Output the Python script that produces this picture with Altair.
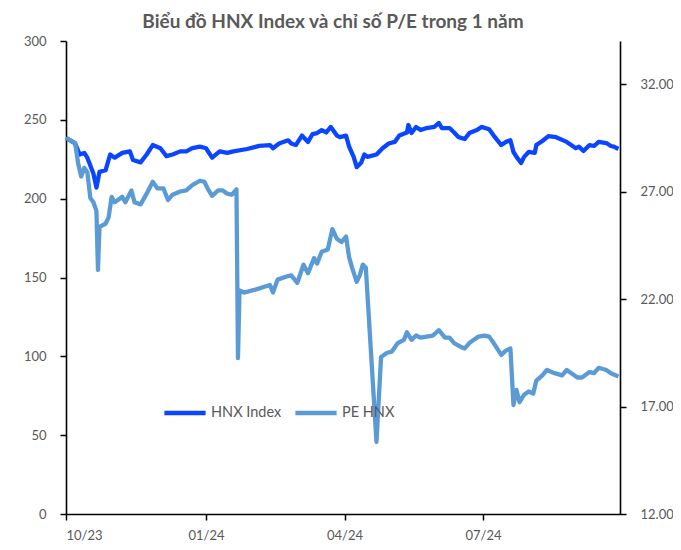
import altair as alt
import pandas as pd

# ---------------- data ----------------
hnx_dates = [
    "2023-10-01", "2023-10-07", "2023-10-10", "2023-10-13", "2023-10-15", "2023-10-19",
    "2023-10-21", "2023-10-23", "2023-10-27", "2023-10-30", "2023-11-02", "2023-11-07",
    "2023-11-12", "2023-11-14", "2023-11-19", "2023-11-23", "2023-11-27", "2023-12-02",
    "2023-12-06", "2023-12-10", "2023-12-15", "2023-12-19", "2023-12-23", "2023-12-28",
    "2024-01-01", "2024-01-05", "2024-01-10", "2024-01-15", "2024-01-19", "2024-01-28",
    "2024-02-05", "2024-02-12", "2024-02-14", "2024-02-18", "2024-02-24", "2024-02-26",
    "2024-02-29", "2024-03-04", "2024-03-08", "2024-03-11", "2024-03-14", "2024-03-17",
    "2024-03-20", "2024-03-23", "2024-03-27", "2024-03-29", "2024-04-02", "2024-04-04",
    "2024-04-07", "2024-04-09", "2024-04-12", "2024-04-14", "2024-04-16", "2024-04-22",
    "2024-04-26", "2024-04-30", "2024-05-04", "2024-05-07", "2024-05-12", "2024-05-13",
    "2024-05-15", "2024-05-18", "2024-05-21", "2024-05-25", "2024-05-30", "2024-06-02",
    "2024-06-04", "2024-06-09", "2024-06-12", "2024-06-15", "2024-06-19", "2024-06-22",
    "2024-06-27", "2024-06-30", "2024-07-05", "2024-07-08", "2024-07-13", "2024-07-16",
    "2024-07-19", "2024-07-21", "2024-07-23", "2024-07-26", "2024-07-28", "2024-07-31",
    "2024-08-04", "2024-08-05", "2024-08-09", "2024-08-13", "2024-08-18", "2024-08-25",
    "2024-08-31", "2024-09-02", "2024-09-05", "2024-09-09", "2024-09-12", "2024-09-15",
    "2024-09-20", "2024-09-23", "2024-09-25", "2024-09-28",
]
hnx_values = [
    238.5, 235, 228, 229, 226, 216,
    207, 217, 218, 228, 226, 229,
    230, 224.5, 223, 228, 234, 232,
    227, 228, 230, 230, 232, 233,
    232, 226, 230, 229, 230, 231.5,
    233.5, 234, 232, 235, 237, 235,
    234, 240, 236, 241, 241.6, 243.5,
    242, 245.5, 240, 239, 240, 233,
    226.5, 220, 223, 228, 226.5, 228,
    232, 235, 236, 240, 242, 246.7,
    241.6, 245.5, 243.5, 244.8, 245.5, 248,
    244.8, 244.8, 242, 239, 237.8, 241.6,
    243.5, 245.5, 244, 240, 234, 236,
    237, 229.6, 226.5, 222.6, 226.5, 229.6,
    229, 234, 236.6, 239.7, 239, 236,
    232, 233, 230.2, 234, 233.4, 236,
    235.3, 233.4, 233, 231.5,
]

pe_dates = [
    "2023-10-01", "2023-10-07", "2023-10-09", "2023-10-11", "2023-10-13", "2023-10-15",
    "2023-10-17", "2023-10-19", "2023-10-21", "2023-10-22", "2023-10-23", "2023-10-27",
    "2023-10-29", "2023-10-31", "2023-11-02", "2023-11-07", "2023-11-09", "2023-11-13",
    "2023-11-15", "2023-11-19", "2023-11-23", "2023-11-27", "2023-11-30", "2023-12-04",
    "2023-12-07", "2023-12-10", "2023-12-15", "2023-12-19", "2023-12-23", "2023-12-28",
    "2023-12-31", "2024-01-02", "2024-01-05", "2024-01-09", "2024-01-12", "2024-01-15",
    "2024-01-18", "2024-01-21", "2024-01-22", "2024-01-23", "2024-01-26", "2024-02-03",
    "2024-02-12", "2024-02-14", "2024-02-17", "2024-02-23", "2024-02-26", "2024-03-01",
    "2024-03-05", "2024-03-08", "2024-03-12", "2024-03-14", "2024-03-17", "2024-03-21",
    "2024-03-24", "2024-03-27", "2024-03-30", "2024-04-02", "2024-04-04", "2024-04-06",
    "2024-04-09", "2024-04-11", "2024-04-13", "2024-04-15", "2024-04-22", "2024-04-25",
    "2024-04-29", "2024-05-02", "2024-05-06", "2024-05-10", "2024-05-12", "2024-05-15",
    "2024-05-18", "2024-05-21", "2024-05-25", "2024-05-29", "2024-06-02", "2024-06-06",
    "2024-06-09", "2024-06-12", "2024-06-17", "2024-06-19", "2024-06-22", "2024-06-25",
    "2024-06-28", "2024-07-02", "2024-07-05", "2024-07-08", "2024-07-13", "2024-07-16",
    "2024-07-19", "2024-07-21", "2024-07-23", "2024-07-25", "2024-07-28", "2024-07-31",
    "2024-08-03", "2024-08-05", "2024-08-09", "2024-08-12", "2024-08-17", "2024-08-22",
    "2024-08-25", "2024-08-28", "2024-09-01", "2024-09-04", "2024-09-09", "2024-09-12",
    "2024-09-15", "2024-09-20", "2024-09-23", "2024-09-28",
]
pe_values = [
    29.5, 29.26, 28.3, 27.7, 28.1, 27.9,
    26.7, 26.5, 26.1, 23.35, 25.35, 25.5,
    25.8, 26.75, 26.5, 26.75, 26.5, 27.05,
    26.5, 26.4, 26.9, 27.45, 27.15, 27.15,
    26.6, 26.85, 27.0, 27.05, 27.3, 27.5,
    27.45, 27.15, 26.8, 27.05, 27.05, 26.9,
    26.85, 27.1, 19.25, 22.4, 22.3, 22.45,
    22.65, 22.3, 22.9, 23.05, 23.1, 22.75,
    23.6, 23.2, 23.9, 23.65, 24.2, 24.3,
    25.25, 24.8, 24.65, 24.9, 23.95, 23.45,
    22.8, 23.1, 23.6, 23.45, 15.35, 19.3,
    19.5, 19.55, 19.95, 20.1, 20.45, 20.1,
    20.3, 20.2, 20.25, 20.3, 20.55, 20.2,
    20.2, 19.95, 19.75, 19.7, 19.95, 20.1,
    20.25, 20.3, 20.25, 19.95, 19.4, 19.6,
    19.7, 17.07, 17.77, 17.2, 17.55, 17.7,
    17.6, 18.2, 18.45, 18.7, 18.55, 18.45,
    18.7, 18.55, 18.35, 18.35, 18.6, 18.55,
    18.8, 18.7, 18.55, 18.4,
]

series_names = ["HNX Index", "PE HNX"]
series_colors = ["#0a46ff", "#5b9bd5"]
left_ticks = [0, 50, 100, 150, 200, 250, 300]
left_domain = [0, 300]
right_ticks = [12, 17, 22, 27, 32]
right_domain = [12, 34]
x_ticks = ["2023-10-01", "2024-01-01", "2024-04-01", "2024-07-01"]
x_domain = ["2023-10-01", "2024-09-29"]
title_text = "Biểu đồ HNX Index và chỉ số P/E trong 1 năm"

FONT = "Lato"
GREY = "#595959"


def dt(s):
    y, m, d = (int(p) for p in s.split("-"))
    return alt.DateTime(year=y, month=m, date=d, utc=True)


hnx_df = pd.DataFrame({"date": hnx_dates, "value": hnx_values, "series": series_names[0]})
pe_df = pd.DataFrame({"date": pe_dates, "value": pe_values, "series": series_names[1]})

x_enc = alt.X(
    "date:T",
    scale=alt.Scale(type="utc", domain=[dt(s) for s in x_domain]),
    axis=alt.Axis(
        title=None, values=[dt(s) for s in x_ticks], format="%m/%y",
        labelPadding=9, grid=False,
    ),
)

color_enc = alt.Color(
    "series:N",
    scale=alt.Scale(domain=series_names, range=series_colors),
    legend=alt.Legend(
        title=None, orient="none", direction="horizontal",
        legendX=96, legendY=349,
        symbolType="stroke", symbolSize=1700, symbolStrokeWidth=4.5,
        labelFont=FONT, labelFontSize=14.5, labelColor=GREY,
        labelOffset=3, columnPadding=4,
    ),
)

hnx_line = alt.Chart(hnx_df).mark_line(strokeWidth=4.3, strokeJoin="round").encode(
    x=x_enc,
    y=alt.Y(
        "value:Q",
        scale=alt.Scale(domain=left_domain, nice=False),
        axis=alt.Axis(title=None, values=left_ticks, grid=False, labelPadding=14),
    ),
    color=color_enc,
)

pe_line = alt.Chart(pe_df).mark_line(strokeWidth=4.3, strokeJoin="round").encode(
    x=x_enc,
    y=alt.Y(
        "value:Q",
        scale=alt.Scale(domain=right_domain, nice=False, zero=False),
        axis=alt.Axis(title=None, orient="right", values=right_ticks, format=".2f",
                      grid=False, labelPadding=14),
    ),
    color=color_enc,
)

chart = (
    alt.layer(hnx_line, pe_line)
    .resolve_scale(y="independent")
    .properties(
        width=554,
        height=473,
        autosize=alt.AutoSizeParams(type="none"),
        padding={"left": 58, "top": 33, "right": 53, "bottom": 30},
        title=alt.Title(
            text=title_text, font=FONT, fontSize=19, fontWeight="bold",
            color=GREY, anchor="middle", offset=3, dx=-10,
        ),
    )
    .configure_view(stroke=None)
    .configure_axis(
        domainColor="black", domainWidth=1.6, tickColor="black", tickWidth=1.5,
        tickSize=6, labelFont=FONT, labelFontSize=13, labelColor=GREY,
    )
)

chart.save("out.html", embed_options={"renderer": "svg", "actions": False})
